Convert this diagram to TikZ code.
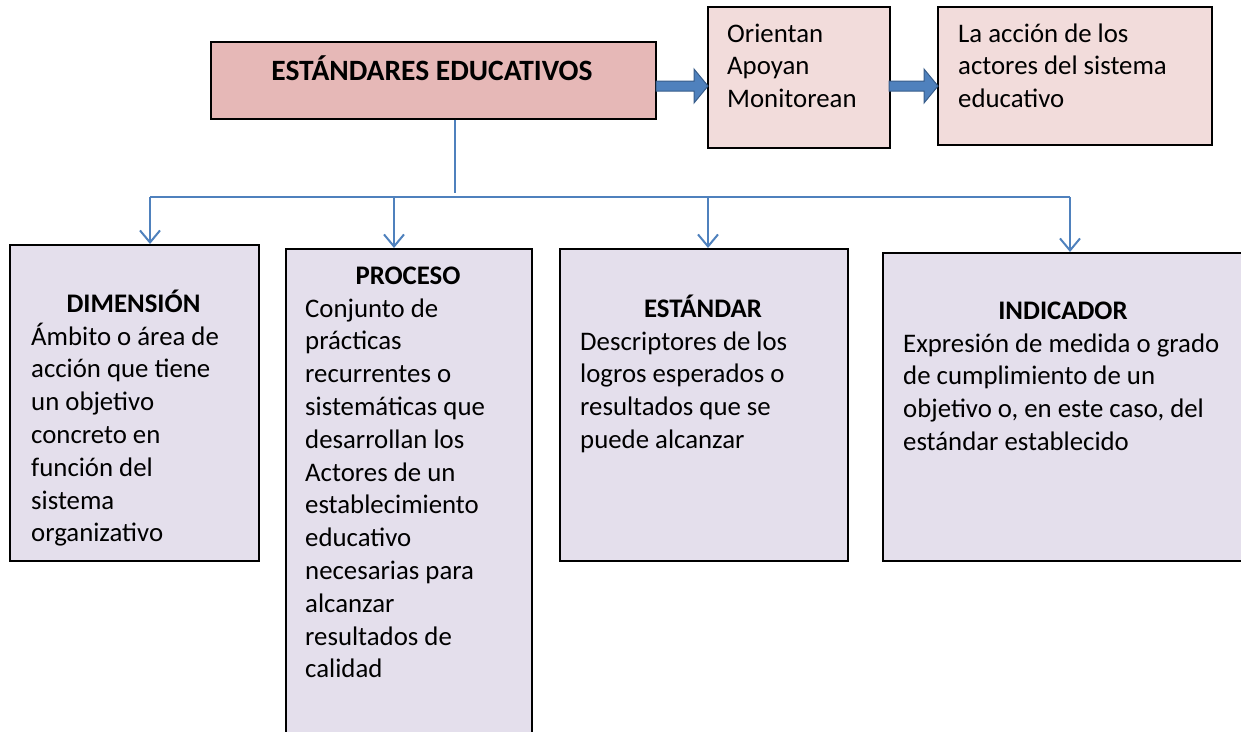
\documentclass[tikz,border=0pt]{standalone}
\usepackage{fontspec}
\setmainfont{Carlito}
\usetikzlibrary{arrows.meta,calc}
\definecolor{mainfill}{HTML}{E6B8B7}
\definecolor{pinkfill}{HTML}{F2DCDB}
\definecolor{lilac}{HTML}{E4DFEC}
\definecolor{connblue}{HTML}{4F81BD}
\definecolor{arrowedge}{HTML}{385D8A}
\newcommand{\blockarr}[2]{%
  \draw[barrow] ($(#1)+(0,-5)$) -- ($(#2)+(-14,-5)$) -- ($(#2)+(-14,-17)$) -- (#2)
    -- ($(#2)+(-14,17)$) -- ($(#2)+(-14,5)$) -- ($(#1)+(0,5)$) -- cycle;}
\newcommand{\txtlines}[1]{\begin{tabular}[t]{@{}l@{}}#1\end{tabular}}
\begin{document}
\begin{tikzpicture}[x=1pt,y=-1pt,
  box/.style={draw=black,line width=1.6pt,anchor=north west,inner sep=0pt},
  bodytext/.style={anchor=base west,inner sep=0pt,font=\fontsize{26.8}{32.8}\selectfont},
  headtext/.style={anchor=base,inner sep=0pt,font=\fontsize{26.8}{32.8}\selectfont\bfseries},
  conn/.style={draw=connblue,line width=2pt},
  tipped/.style={conn,-{Straight Barb[length=12pt,width=20pt]}},
  barrow/.style={fill=connblue,draw=arrowedge,line width=1pt}]
\useasboundingbox (0,0) rectangle (1241,731);
\clip (0,0) rectangle (1241,731);
% top boxes
\node[box,fill=mainfill,minimum width=445pt,minimum height=77pt] (main) at (210,41) {};
\node[box,fill=pinkfill,minimum width=182pt,minimum height=141pt] (ori) at (707,6) {};
\node[box,fill=pinkfill,minimum width=274pt,minimum height=138pt] (acc) at (937,6) {};
\node[anchor=base,inner sep=0pt,font=\fontsize{29.5}{34}\selectfont\bfseries] (title) at (432,80) {ESTÁNDARES EDUCATIVOS};
\node[bodytext] (oritxt) at (727,42) {\txtlines{Orientan\\Apoyan\\Monitorean}};
\node[bodytext] (acctxt) at (958,42) {\txtlines{La acción de los\\actores del sistema\\educativo}};
% block arrows
\coordinate (a1s) at (656,86);
\coordinate (a1t) at (708,86);
\coordinate (a2s) at (889,86);
\coordinate (a2t) at (938,86);
\blockarr{a1s}{a1t}
\blockarr{a2s}{a2t}
% bottom boxes
\node[box,fill=lilac,minimum width=249pt,minimum height=316pt] (dim) at (9,244) {};
\node[box,fill=lilac,minimum width=246pt,minimum height=520pt] (pro) at (285,248) {};
\node[box,fill=lilac,minimum width=288pt,minimum height=312pt] (est) at (559,248) {};
\node[box,fill=lilac,minimum width=380pt,minimum height=308pt] (ind) at (882,252) {};
% texts
\node[headtext] (dimhead) at (133.5,312) {DIMENSIÓN};
\node[bodytext] (dimtxt) at (31,345) {\txtlines{Ámbito o área de\\acción que tiene\\un objetivo\\concreto en\\función del\\sistema\\organizativo}};
\node[headtext] (prohead) at (408,284) {PROCESO};
\node[bodytext] (protxt) at (305,317) {\txtlines{Conjunto de\\prácticas\\recurrentes o\\sistemáticas que\\desarrollan los\\Actores de un\\establecimiento\\educativo\\necesarias para\\alcanzar\\resultados de\\calidad}};
\node[headtext] (esthead) at (703,317) {ESTÁNDAR};
\node[bodytext] (esttxt) at (580,350) {\txtlines{Descriptores de los\\logros esperados o\\resultados que se\\puede alcanzar}};
\node[headtext] (indhead) at (1063,319) {INDICADOR};
\node[bodytext] (indtxt) at (903,352) {\txtlines{Expresión de medida o grado\\de cumplimiento de un\\objetivo o, en este caso, del\\estándar establecido}};
% connectors
\coordinate (j) at (455,193);
\coordinate (h1) at (150,197);
\coordinate (h2) at (394,197);
\coordinate (h3) at (708,197);
\coordinate (h4) at (1070,197);
\draw[conn] (main.south -| j) -- (j);
\draw[conn] (h1) -- (h4);
\draw[tipped] (h1) -- (h1 |- dim.north);
\draw[tipped] (h2) -- (h2 |- pro.north);
\draw[tipped] (h3) -- (h3 |- est.north);
\draw[tipped] (h4) -- (h4 |- ind.north);
\end{tikzpicture}
\end{document}
